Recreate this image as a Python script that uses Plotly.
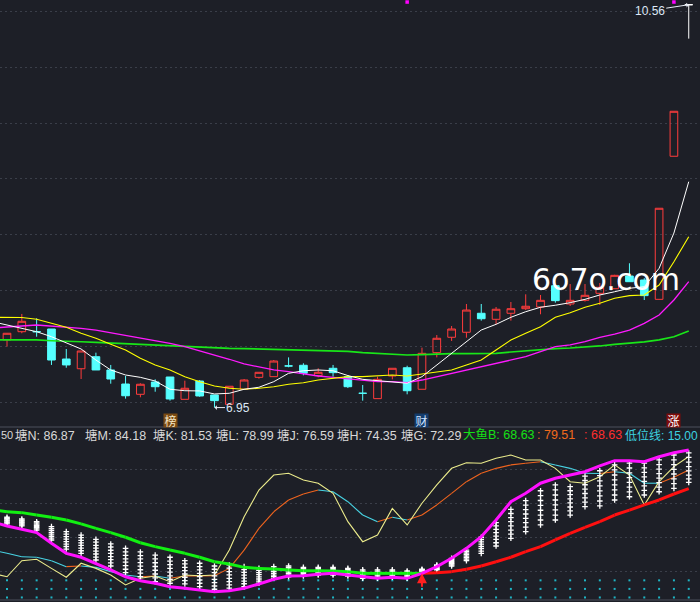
import plotly.graph_objects as go

# ---------------- data ----------------
idx = list(range(47))
opens  = [7.556, 7.630, 7.630, 7.654, 7.385, 7.298, 7.406, 7.287, 7.161, 7.069,
          7.179, 7.224, 7.024, 7.188, 7.063, 6.979, 7.114, 7.221, 7.227, 7.323,
          7.329, 7.236, 7.302, 7.227, 7.078, 7.030, 7.233, 7.307, 7.114, 7.442,
          7.580, 7.625, 7.795, 7.741, 7.795, 7.836, 7.851, 8.042, 7.878, 7.911,
          7.974, 8.015, 8.129, 8.093, 7.920, 9.202, 10.560]
highs  = [7.618, 7.789, 7.750, 7.654, 7.475, 7.457, 7.442, 7.332, 7.233, 7.168,
          7.203, 7.224, 7.191, 7.197, 7.063, 7.141, 7.206, 7.266, 7.376, 7.400,
          7.347, 7.302, 7.332, 7.242, 7.152, 7.227, 7.302, 7.325, 7.487, 7.600,
          7.681, 7.878, 7.878, 7.851, 7.896, 7.965, 7.959, 8.042, 8.057, 8.057,
          8.066, 8.140, 8.243, 8.110, 8.736, 9.605, 10.560]
lows   = [7.496, 7.616, 7.585, 7.332, 7.307, 7.206, 7.287, 7.164, 7.030, 7.042,
          7.092, 7.012, 7.024, 7.047, 6.950, 6.979, 7.114, 7.209, 7.227, 7.311,
          7.239, 7.221, 7.227, 7.125, 7.012, 7.030, 7.203, 7.069, 7.114, 7.400,
          7.547, 7.576, 7.729, 7.696, 7.729, 7.824, 7.786, 7.890, 7.860, 7.900,
          7.869, 8.015, 8.078, 7.914, 7.920, 9.202, 10.256]
closes = [7.616, 7.723, 7.630, 7.376, 7.332, 7.457, 7.287, 7.206, 7.056, 7.159,
          7.137, 7.027, 7.123, 7.054, 7.012, 7.141, 7.197, 7.266, 7.367, 7.323,
          7.257, 7.266, 7.263, 7.137, 7.078, 7.203, 7.302, 7.101, 7.436, 7.571,
          7.654, 7.824, 7.746, 7.831, 7.836, 7.858, 7.911, 7.908, 7.911, 7.956,
          8.028, 8.135, 8.078, 7.953, 8.736, 9.605, 10.560]
# u = rising (hollow red), d = falling (cyan), f = one-price (white)
candle_kind = ["u", "u", "d", "d", "d", "u", "d", "d", "d", "u",
               "d", "d", "u", "d", "d", "u", "u", "u", "u", "d",
               "d", "u", "d", "d", "d", "u", "u", "d", "u", "u",
               "u", "u", "d", "u", "u", "u", "u", "d", "u", "u",
               "u", "u", "d", "d", "u", "u", "f"]

ma_idx = list(range(-1, 47))
ma5  = [7.720, 7.690, 7.666, 7.630, 7.585, 7.531, 7.475, 7.376, 7.287, 7.242, 7.221,
        7.188, 7.114, 7.101, 7.099, 7.072, 7.078, 7.114, 7.132, 7.182, 7.257,
        7.280, 7.287, 7.280, 7.237, 7.203, 7.191, 7.182, 7.168, 7.227, 7.332,
        7.436, 7.540, 7.645, 7.696, 7.759, 7.809, 7.849, 7.867, 7.890, 7.920,
        7.959, 7.988, 8.019, 8.033, 8.198, 8.514, 8.974]
ma10 = [7.759, 7.759, 7.757, 7.741, 7.705, 7.669, 7.616, 7.571, 7.517, 7.466, 7.392,
        7.332, 7.287, 7.227, 7.182, 7.143, 7.123, 7.114, 7.123, 7.137, 7.159,
        7.173, 7.197, 7.209, 7.227, 7.227, 7.236, 7.242, 7.233, 7.251, 7.272,
        7.287, 7.332, 7.376, 7.466, 7.556, 7.616, 7.675, 7.759, 7.800, 7.849,
        7.884, 7.929, 7.953, 7.959, 8.048, 8.257, 8.481]
ma20 = [7.663, 7.675, 7.681, 7.690, 7.681, 7.675, 7.660, 7.645, 7.621, 7.600, 7.580,
        7.556, 7.526, 7.496, 7.460, 7.421, 7.383, 7.341, 7.311, 7.287, 7.272,
        7.251, 7.233, 7.221, 7.206, 7.191, 7.182, 7.182, 7.173, 7.197, 7.227,
        7.257, 7.287, 7.316, 7.347, 7.376, 7.406, 7.451, 7.496, 7.511, 7.540,
        7.580, 7.609, 7.645, 7.705, 7.780, 7.914, 8.078]
ma60 = [7.556, 7.556, 7.556, 7.556, 7.549, 7.547, 7.540, 7.535, 7.529, 7.520, 7.511,
        7.505, 7.502, 7.496, 7.490, 7.484, 7.481, 7.478, 7.475, 7.472, 7.469,
        7.463, 7.460, 7.457, 7.453, 7.442, 7.436, 7.430, 7.421, 7.424, 7.430,
        7.433, 7.433, 7.436, 7.436, 7.448, 7.460, 7.469, 7.478, 7.484, 7.490,
        7.502, 7.517, 7.526, 7.538, 7.556, 7.585, 7.636]

signal_idx = [27, 45]
signal_price = [10.584, 10.584]

low_label_idx = [14]
low_label_price = [6.95]
high_label_idx = [46]
high_label_price = [10.56]

tag_idx = [11, 28, 45]
tag_text = ["榜", "财", "涨"]

# lower indicator panel
big_fish = [56.3, 55.1, 54.6, 53.2, 51.9, 50.3, 48.0, 45.4, 42.9, 40.2, 37.0,
            34.7, 32.7, 30.8, 28.5, 25.9, 24.6, 22.6, 22.0, 21.6, 21.1,
            20.6, 20.6, 20.5, 20.1, 19.1, 19.1, 19.1, 19.1, 19.1, 19.5,
            20.1, 21.5, 23.4, 25.9, 28.5, 31.8, 34.7, 38.6, 42.5, 46.0,
            49.3, 53.2, 56.1, 59.1, 62.0, 65.5, 68.63]
magenta_b = [49.2, 46.8, 44.9, 42.9, 36.7, 30.8, 28.5, 25.0, 21.1, 17.1, 14.8,
             13.3, 11.3, 10.4, 9.4, 8.4, 8.9, 10.4, 12.9, 15.6, 17.5,
             17.7, 18.5, 19.1, 18.1, 17.1, 16.2, 16.8, 16.2, 19.1, 23.0,
             27.9, 33.7, 40.5, 50.3, 61.0, 65.9, 71.8, 74.7, 76.6, 78.5,
             81.9, 85.0, 85.0, 84.4, 87.3, 89.6, 91.2]
yellow_b = [19.1, 17.1, 26.5, 27.3, 22.0, 16.8, 25.0, 22.0, 18.1, 12.3, 16.2,
            17.5, 14.2, 18.1, 17.7, 18.1, 32.7, 52.2, 67.8, 76.6, 77.6,
            73.7, 71.8, 65.9, 49.3, 37.6, 41.5, 57.1, 47.4, 60.1, 70.8,
            80.5, 83.8, 83.5, 86.4, 88.3, 85.4, 85.4, 80.5, 72.7, 71.8,
            75.6, 82.5, 76.6, 59.1, 72.7, 81.5, 87.4]
mid_b = [32.8, 30.8, 28.8, 28.5, 26.5, 23.0, 23.4, 22.6, 20.1, 18.1, 17.1,
         17.5, 16.2, 17.5, 17.6, 17.7, 22.0, 32.7, 45.4, 55.1, 62.0,
         65.5, 67.8, 66.8, 61.0, 53.2, 49.3, 51.9, 50.3, 53.2, 59.1,
         65.9, 72.7, 77.6, 80.5, 82.5, 83.5, 84.4, 82.5, 80.5, 77.6,
         77.5, 78.5, 77.6, 71.8, 71.8, 75.3, 79.51]

tang_G = [48.0, 46.8, 44.4, 38.6, 33.3, 30.8, 26.9, 23.4, 19.5, 17.1,
          14.2, 13.3, 12.9, 11.3, 9.8, 10.4, 11.3, 13.3, 16.2, 17.1,
          17.5, 18.1, 18.1, 17.5, 16.2, 16.2, 16.8, 16.2, 19.1, 21.1,
          23.4, 26.5, 30.8, 35.1, 39.6, 43.5, 47.4, 50.3, 53.2, 58.1,
          58.5, 62.0, 63.9, 64.9, 66.8, 68.8, 72.29]
tang_H = [48.6, 47.4, 45.1, 39.7, 34.8, 32.3, 28.6, 25.2, 21.5, 19.2,
          16.4, 15.5, 14.8, 13.3, 11.7, 12.3, 13.0, 14.5, 17.2, 18.0,
          18.2, 18.7, 18.7, 18.1, 16.9, 16.9, 17.4, 16.8, 19.4, 21.5,
          24.0, 27.4, 32.1, 37.0, 42.0, 46.1, 50.3, 53.2, 55.6, 60.7,
          61.4, 64.9, 66.7, 67.6, 69.5, 71.6, 74.35]
tang_J = [49.1, 48.0, 45.8, 40.8, 36.2, 33.9, 30.4, 27.1, 23.6, 21.2,
          18.7, 17.6, 16.8, 15.2, 13.7, 14.3, 14.6, 15.8, 18.1, 18.9,
          19.0, 19.4, 19.4, 18.8, 17.6, 17.6, 18.0, 17.4, 19.8, 21.9,
          24.7, 28.3, 33.5, 39.0, 44.4, 48.7, 53.1, 56.2, 57.9, 63.2,
          64.4, 67.9, 69.5, 70.2, 72.1, 74.4, 76.59]
tang_L = [49.7, 48.6, 46.5, 42.0, 37.7, 35.4, 32.1, 28.9, 25.6, 23.3,
          20.9, 19.8, 18.7, 17.2, 15.6, 16.2, 16.3, 17.0, 19.1, 19.8,
          19.7, 20.0, 20.0, 19.4, 18.3, 18.3, 18.6, 18.0, 20.1, 22.3,
          25.3, 29.2, 34.8, 40.9, 46.8, 51.3, 56.0, 59.1, 60.3, 65.8,
          67.3, 70.8, 72.3, 72.9, 74.8, 77.2, 78.99]
tang_K = [50.2, 49.1, 47.2, 43.1, 39.1, 36.9, 33.8, 30.8, 27.6, 25.4,
          23.1, 22.0, 20.7, 19.1, 17.6, 18.2, 18.0, 18.3, 20.1, 20.7,
          20.4, 20.7, 20.7, 20.1, 19.0, 19.0, 19.3, 18.7, 20.5, 22.8,
          26.0, 30.0, 36.2, 42.9, 49.3, 53.8, 58.8, 62.0, 62.7, 68.3,
          70.3, 73.7, 75.1, 75.5, 77.4, 79.9, 81.53]
tang_M = [50.8, 49.7, 47.9, 44.2, 40.6, 38.4, 35.5, 32.6, 29.6, 27.5,
          25.3, 24.2, 22.6, 21.1, 19.5, 20.1, 19.7, 19.5, 21.1, 21.6,
          21.1, 21.3, 21.3, 20.7, 19.7, 19.7, 19.9, 19.3, 20.8, 23.2,
          26.6, 30.9, 37.5, 44.8, 51.7, 56.4, 61.7, 64.9, 65.1, 70.9,
          73.2, 76.6, 77.9, 78.2, 80.1, 82.7, 84.18]
tang_N = [51.3, 50.3, 48.6, 45.3, 42.0, 40.0, 37.3, 34.5, 31.7, 29.5,
          27.6, 26.3, 24.6, 23.0, 21.5, 22.1, 21.3, 20.8, 22.0, 22.5,
          21.9, 22.0, 22.0, 21.4, 20.4, 20.4, 20.5, 19.9, 21.2, 23.6,
          27.3, 31.8, 38.9, 46.8, 54.1, 59.0, 64.5, 67.9, 67.4, 73.4,
          76.2, 79.6, 80.7, 80.8, 82.7, 85.5, 86.87]
tang_P = [51.9, 50.9, 49.3, 46.4, 43.5, 41.5, 39.0, 36.3, 33.7, 31.6,
          29.8, 28.5, 26.5, 25.0, 23.4, 24.0, 23.0, 22.0, 23.0, 23.4,
          22.6, 22.6, 22.6, 22.0, 21.1, 21.1, 21.1, 20.5, 21.5, 24.0,
          27.9, 32.7, 40.2, 48.7, 56.5, 61.6, 67.4, 70.8, 69.8, 76.0,
          79.1, 82.5, 83.5, 83.5, 85.4, 88.3, 89.50]

ref_levels = [15, 10, 5]
turn_idx = [28]
turn_value = [19.1]

legend_parts = [("50", "#d8d8d8"), ("塘N: 86.87", "#d8d8d8"), ("塘M: 84.18", "#d8d8d8"),
                ("塘K: 81.53", "#d8d8d8"), ("塘L: 78.99", "#d8d8d8"), ("塘J: 76.59", "#d8d8d8"),
                ("塘H: 74.35", "#d8d8d8"), ("塘G: 72.29", "#d8d8d8"), ("大鱼B: 68.63", "#16e016"),
                (": 79.51", "#f06a1c"), (": 68.63", "#ff2e2e"), ("低位线: 15.00", "#3cd2e0")]
legend_x_px = [0, 14, 84, 152, 215, 276, 336, 400, 462, 536, 583, 624]
legend_size = [11, 12.5, 12.5, 12.5, 12.5, 12.5, 12.5, 12.5, 12.5, 12.5, 12.5, 12]

# ---------------- style ----------------
W, H = 700, 602
BG = "#1d1f27"
GRID = "#3a3e49"
RED = "#ff3c3c"
CYAN = "#55ffff"

top_dom = [1 - 426 / 602, 1.0]
bot_dom = [0.0, 1 - 446 / 602]
xr = [-0.472, 46.76]

fig = go.Figure()

# candles
for kind, col, fill in [("u", RED, "rgba(0,0,0,0)"), ("d", CYAN, CYAN), ("f", "#ffffff", "#ffffff")]:
    sel = [i for i in idx if candle_kind[i] == kind]
    fig.add_trace(go.Candlestick(
        x=sel, open=[opens[i] for i in sel], high=[highs[i] for i in sel],
        low=[lows[i] for i in sel], close=[closes[i] for i in sel],
        increasing=dict(line=dict(color=col, width=1), fillcolor=fill),
        decreasing=dict(line=dict(color=col, width=1), fillcolor=fill),
        whiskerwidth=0, showlegend=False, hoverinfo="skip",
        xaxis="x", yaxis="y"))

for vals, col, w in [(ma60, "#19e619", 1.7), (ma20, "#ff1aff", 1.3),
                     (ma10, "#ffff00", 1.1), (ma5, "#ffffff", 1.0)]:
    fig.add_trace(go.Scatter(x=ma_idx, y=vals, mode="lines",
                             line=dict(color=col, width=w),
                             showlegend=False, hoverinfo="skip", xaxis="x", yaxis="y"))

fig.add_trace(go.Scatter(x=signal_idx, y=signal_price, mode="markers",
                         marker=dict(symbol="square", size=3.5, color="#ff00ff"),
                         showlegend=False, hoverinfo="skip", xaxis="x", yaxis="y"))

# lower panel
for lv in ref_levels:
    fig.add_trace(go.Scatter(x=idx, y=[lv] * len(idx), mode="markers",
                             marker=dict(symbol="square", size=2, color="#1fb4c4"),
                             showlegend=False, hoverinfo="skip", xaxis="x2", yaxis="y2"))


def split_segments(xs, ys, rising):
    sx, sy = [], []
    for j in range(len(xs) - 1):
        up = ys[j + 1] > ys[j]
        if up == rising:
            sx += [xs[j], xs[j + 1], None]
            sy += [ys[j], ys[j + 1], None]
    return sx, sy


for rising, col in [(True, "#f0641e"), (False, "#48d4e4")]:
    sx, sy = split_segments(ma_idx, mid_b, rising)
    fig.add_trace(go.Scatter(x=sx, y=sy, mode="lines", line=dict(color=col, width=1.1),
                             showlegend=False, hoverinfo="skip", xaxis="x2", yaxis="y2"))

fig.add_trace(go.Scatter(x=ma_idx, y=yellow_b, mode="lines", line=dict(color="#ecec8c", width=1.1),
                         showlegend=False, hoverinfo="skip", xaxis="x2", yaxis="y2"))

for series in [tang_G, tang_H, tang_J, tang_L, tang_K, tang_M, tang_N, tang_P]:
    fig.add_trace(go.Scatter(x=idx, y=series, mode="markers",
                             marker=dict(symbol="cross-thin", size=4,
                                         line=dict(color="#ffffff", width=1.3)),
                             showlegend=False, hoverinfo="skip", xaxis="x2", yaxis="y2"))

for rising, col in [(False, "#12f012"), (True, "#ff1010")]:
    sx, sy = split_segments(ma_idx, big_fish, rising)
    fig.add_trace(go.Scatter(x=sx, y=sy, mode="lines", line=dict(color=col, width=3),
                             showlegend=False, hoverinfo="skip", xaxis="x2", yaxis="y2"))

fig.add_trace(go.Scatter(x=ma_idx, y=magenta_b, mode="lines", line=dict(color="#ff10ff", width=3),
                         showlegend=False, hoverinfo="skip", xaxis="x2", yaxis="y2"))

annotations = []
# low / high price labels
annotations.append(dict(x=low_label_idx[0], y=low_label_price[0], xref="x", yref="y",
                        text=f"{low_label_price[0]:.2f}", showarrow=True, ax=24, ay=0,
                        arrowhead=1, arrowsize=0.8, arrowwidth=1, arrowcolor="#e8eef6",
                        font=dict(family="Liberation Sans", size=12, color="#dde8f6")))
annotations.append(dict(x=high_label_idx[0], y=high_label_price[0], xref="x", yref="y",
                        text=f"{high_label_price[0]:.2f}", showarrow=True, ax=-39, ay=6,
                        arrowhead=1, arrowsize=0.8, arrowwidth=1, arrowcolor="#e8eef6",
                        font=dict(family="Liberation Sans", size=12, color="#dde8f6")))
# tags
tag_style = [("#7a4a12", "#f6e8c8"), ("#143c6c", "#d0e2ff"), ("#7e0c0c", "#ffffff")]
for t, s, (bg, fc) in zip(tag_idx, tag_text, tag_style):
    annotations.append(dict(x=t, y=1 - 420 / 602, xref="x", yref="paper", text=s,
                            showarrow=False, bgcolor=bg, width=13, height=13, borderpad=0,
                            xanchor="center", yanchor="middle",
                            font=dict(family="Noto Sans CJK SC", size=12, color=fc)))
# legend row of lower indicator
for (txt, col), px, fs in zip(legend_parts, legend_x_px, legend_size):
    annotations.append(dict(x=px / W, y=1 - 435 / H, xref="paper", yref="paper", text=txt,
                            showarrow=False, xanchor="left", yanchor="middle", borderpad=0,
                            font=dict(family="Liberation Sans, Noto Sans CJK SC", size=fs, color=col)))
# turn arrow
annotations.append(dict(x=turn_idx[0], y=turn_value[0], xref="x2", yref="y2", text="",
                        showarrow=True, ax=0, ay=15, arrowhead=2, arrowsize=1, arrowwidth=2,
                        arrowcolor="#ff2020"))
# watermark
annotations.append(dict(x=606 / W, y=1 - 280 / H, xref="paper", yref="paper", text="6o7o.com",
                        showarrow=False, xanchor="center", yanchor="middle",
                        font=dict(family="DejaVu Sans", size=30, color="#ffffff")))

shapes = [
    dict(type="line", xref="paper", yref="paper", x0=0, x1=1, y0=1 - 427 / H, y1=1 - 427 / H,
         line=dict(color="#3c404b", width=1.5)),
    dict(type="line", xref="paper", yref="paper", x0=0, x1=1, y0=1 - 600 / H, y1=1 - 600 / H,
         line=dict(color="#3c404b", width=1.5)),
]

axis_common = dict(showticklabels=False, zeroline=False, ticks="", showline=False, fixedrange=True)
fig.update_layout(
    width=W, height=H, margin=dict(l=0, r=0, t=0, b=0),
    paper_bgcolor=BG, plot_bgcolor=BG, showlegend=False,
    boxgap=0.26, boxmode="overlay",
    xaxis=dict(domain=[0, 1], anchor="y", range=xr, showgrid=False,
               rangeslider=dict(visible=False), **axis_common),
    yaxis=dict(domain=top_dom, anchor="x", range=[6.7849, 10.6022], tick0=7, dtick=0.5,
               showgrid=True, gridcolor=GRID, griddash="2px,3px", gridwidth=1, **axis_common),
    xaxis2=dict(domain=[0, 1], anchor="y2", range=xr, showgrid=False, **axis_common),
    yaxis2=dict(domain=bot_dom, anchor="x2", range=[2.339, 93.567], tick0=0, dtick=20,
                showgrid=True, gridcolor=GRID, griddash="2px,3px", gridwidth=1, **axis_common),
    annotations=annotations, shapes=shapes,
)

fig.write_html("out.html", config={"displayModeBar": False, "staticPlot": True},
               post_script="document.body.style.margin='0';document.body.style.background='#1d1f27';document.body.style.overflow='hidden';")
